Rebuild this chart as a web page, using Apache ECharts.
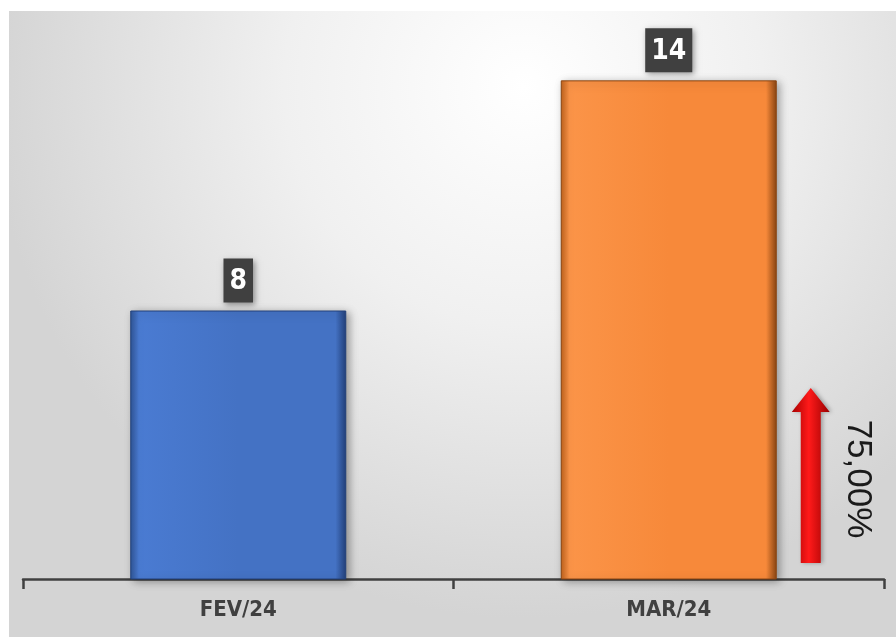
<!DOCTYPE html>
<html>
<head>
<meta charset="utf-8">
<script src="https://cdn.jsdelivr.net/npm/echarts@6/dist/echarts.min.js"></script>
<style>
  html, body { margin: 0; padding: 0; background: #fff; }
  #chart { width: 896px; height: 637px; }
</style>
</head>
<body>
<div id="chart"></div>
<script>
var categories = ['FEV/24', 'MAR/24']
var values = [8, 14]
var barColors = [
  ['#2f5597', '#4a7bd2', '#4472c4', '#22407a'],
  ['#c0621c', '#fb9448', '#f7893a', '#8a4512']
]

var chart = echarts.init(document.getElementById('chart'))
var narrow = "'Liberation Sans Narrow', 'DejaVu Sans Condensed', sans-serif"

function barColor (c) {
  return {
    type: 'linear', x: 0, y: 0, x2: 1, y2: 0,
    colorStops: [
      { offset: 0, color: c[0] },
      { offset: 0.04, color: c[1] },
      { offset: 0.5, color: c[2] },
      { offset: 0.95, color: c[2] },
      { offset: 1, color: c[3] }
    ]
  }
}

function background () {
  return {
    type: 'rect',
    z: -10,
    shape: { x: 9, y: 11, width: 887, height: 626 },
    style: {
      fill: {
        type: 'radial', x: 0.58, y: 0.12, r: 0.85,
        colorStops: [
          { offset: 0, color: '#ffffff' },
          { offset: 0.45, color: '#f0f0f0' },
          { offset: 1, color: '#d4d4d4' }
        ]
      }
    }
  }
}

chart.setOption({
  animation: false,
  grid: { left: 23, right: 12, top: 42, bottom: 58 },
  xAxis: {
    type: 'category',
    data: categories,
    axisLine: { lineStyle: { color: '#404040', width: 2.5 } },
    axisTick: { show: true, length: 10, lineStyle: { color: '#404040', width: 2.5 } },
    axisLabel: {
      color: '#404040',
      fontFamily: narrow,
      fontWeight: 'bold',
      fontSize: 22,
      margin: 20
    }
  },
  yAxis: {
    type: 'value',
    min: 1,
    max: 15,
    show: false,
    splitLine: { show: false }
  },
  series: [{
    type: 'bar',
    barWidth: 216,
    data: values.map(function (v, i) {
      return {
        value: v,
        itemStyle: {
          color: barColor(barColors[i]),
          borderColor: barColors[i][3],
          borderWidth: 1,
          shadowBlur: 8,
          shadowOffsetX: 3,
          shadowOffsetY: 2,
          shadowColor: 'rgba(0,0,0,0.35)'
        }
      }
    }),
    label: {
      show: true,
      position: 'top',
      distance: 8,
      color: '#fff',
      fontFamily: narrow,
      fontWeight: 'bold',
      fontSize: 28,
      backgroundColor: '#404040',
      padding: [9, 6, 7, 6],
      shadowBlur: 6,
      shadowOffsetX: 2,
      shadowOffsetY: 2,
      shadowColor: 'rgba(0,0,0,0.4)'
    }
  }]
})

// variation arrow next to the last bar
var last = categories.length - 1
var base = chart.convertToPixel({ xAxisIndex: 0, yAxisIndex: 0 }, [last, 1])
var pct = (values[last] - values[last - 1]) / values[last - 1] * 100
var ax = base[0] + 108 + 34
var arrowBottom = base[1] - 16
var arrowTop = arrowBottom - 175

chart.setOption({
  graphic: [background(), {
    type: 'polygon',
    shape: {
      points: [
        [ax - 10, arrowBottom], [ax + 10, arrowBottom], [ax + 10, arrowTop + 24],
        [ax + 19, arrowTop + 24], [ax, arrowTop], [ax - 19, arrowTop + 24], [ax - 10, arrowTop + 24]
      ]
    },
    style: {
      fill: {
        type: 'linear', x: 0, y: 0, x2: 1, y2: 0,
        colorStops: [
          { offset: 0, color: '#a80000' },
          { offset: 0.45, color: '#ff1a1a' },
          { offset: 1, color: '#9a0000' }
        ]
      },
      shadowBlur: 4,
      shadowOffsetX: 2,
      shadowColor: 'rgba(0,0,0,0.3)'
    }
  }, {
    type: 'text',
    x: ax + 47,
    y: arrowBottom - 84,
    rotation: -Math.PI / 2,
    style: {
      text: pct.toFixed(2).replace('.', ',') + '%',
      fill: '#1a1a1a',
      font: "35px 'Liberation Sans', sans-serif",
      align: 'center',
      verticalAlign: 'middle'
    }
  }]
})
</script>
</body>
</html>
